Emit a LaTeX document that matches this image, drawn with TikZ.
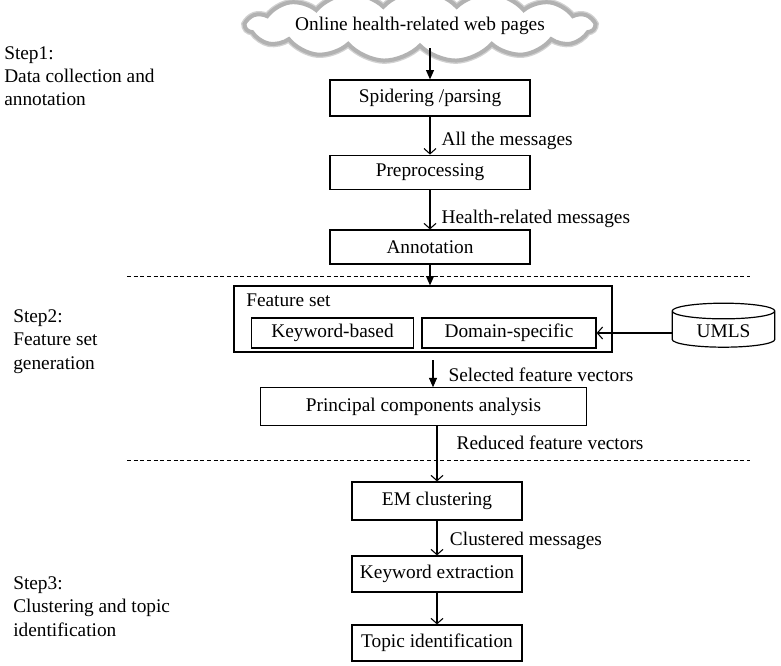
\documentclass[tikz,border=0pt]{standalone}
\usepackage{fontspec}
\setmainfont{Liberation Serif}
\usetikzlibrary{arrows.meta,shapes.geometric,shapes.symbols}

\tikzset{
	box/.style={draw, line width=0.9pt, minimum height=27pt, inner sep=2pt},
	innerbox/.style={draw, line width=0.9pt, minimum height=22.5pt, inner sep=2pt},
	steplabel/.style={anchor=base west, align=left, inner sep=0pt},
	fill arrow/.style={line width=0.8pt, -{Triangle[length=7pt,width=6pt]}},
	open arrow/.style={line width=0.8pt, -{Straight Barb[length=4pt,width=9pt]}},
	sep line/.style={line width=0.6pt, dash pattern=on 3pt off 2pt}
}

\begin{document}
\begin{tikzpicture}[x=0.75pt, y=-0.75pt, font=\fontsize{14.5}{17.6}\selectfont]
		\useasboundingbox (0,0) rectangle (781,666);

		% step 1
		\node (web)[cloud, cloud puffs=15, cloud puff arc=95, aspect=9, draw=gray!60, line width=3pt, fill=white, preaction={draw=gray!35, line width=5pt}, minimum width=232pt, minimum height=22pt, inner xsep=0pt, inner ysep=-2pt] at (420,26) {Online health-related web pages};
		\node (spider)[box, minimum width=150pt] at (430,98) {Spidering /parsing};
		\node (prep)[box, minimum width=150pt, minimum height=26pt] at (430,172.5) {Preprocessing};
		\node (annot)[box, minimum width=150pt, minimum height=25.5pt] at (430,247) {Annotation};
		\draw [fill arrow](web.south -| spider.north)--(spider.north);
		\draw [open arrow](spider)--(prep) node [pos=0.65, right, xshift=5pt]{All the messages};
		\draw [open arrow](prep)--(annot) node [pos=0.72, right, xshift=5pt]{Health-related messages};

		\coordinate (sepA) at (127,276);
		\coordinate (sepB) at (750,276);
		\draw [sep line](sepA)--(sepB);

		% step 2
		\node (fset)[draw, line width=0.9pt, minimum width=283.5pt, minimum height=49.5pt] at (423,319) {};
		\node (fsetlabel)[anchor=base west, inner sep=0pt] at (246,307) {Feature set};
		\node (kw)[innerbox, minimum width=122pt] at (332.5,333) {Keyword-based};
		\node (dom)[innerbox, minimum width=130.5pt] at (509,333) {Domain-specific};
		\node (umls)[cylinder, shape border rotate=90, aspect=0.25, draw, line width=0.9pt, minimum width=77pt, minimum height=33pt] at (723.5,331) {UMLS};
		\node (pca)[box, minimum width=245pt, minimum height=28pt] at (423.5,406.5) {Principal components analysis};
		\draw [fill arrow](annot.south)--(annot.south |- fset.north);
		\draw [open arrow](umls.west |- dom.east)--(dom.east);
		\coordinate (selected) at (433,360);
		\draw [fill arrow](selected)--(selected |- pca.north) node [midway, right, xshift=8pt, yshift=-1pt]{Selected feature vectors};

		\coordinate (sepC) at (127,460);
		\coordinate (sepD) at (750,460);
		\draw [sep line](sepC)--(sepD);

		% step 3
		\node (em)[box, minimum width=127.5pt, minimum height=28.5pt] at (437,501) {EM clustering};
		\node (kwx)[box, minimum width=127.5pt] at (437,574) {Keyword extraction};
		\node (topic)[box, minimum width=127.5pt] at (437,643) {Topic identification};
		\draw [open arrow](pca.south -| em.north)--(em.north) node [pos=0.3, right, xshift=11pt]{Reduced feature vectors};
		\draw [open arrow](em)--(kwx) node [pos=0.58, right, xshift=6pt]{Clustered messages};
		\draw [open arrow](kwx)--(topic);

		% step labels
		\node (step1)[steplabel] at (4,106) {Step1:\\Data collection and\\annotation};
		\node (step2)[steplabel] at (13,369) {Step2:\\Feature set\\generation};
		\node (step3)[steplabel] at (13,636) {Step3:\\Clustering and topic\\identification};
	\end{tikzpicture}
\end{document}
